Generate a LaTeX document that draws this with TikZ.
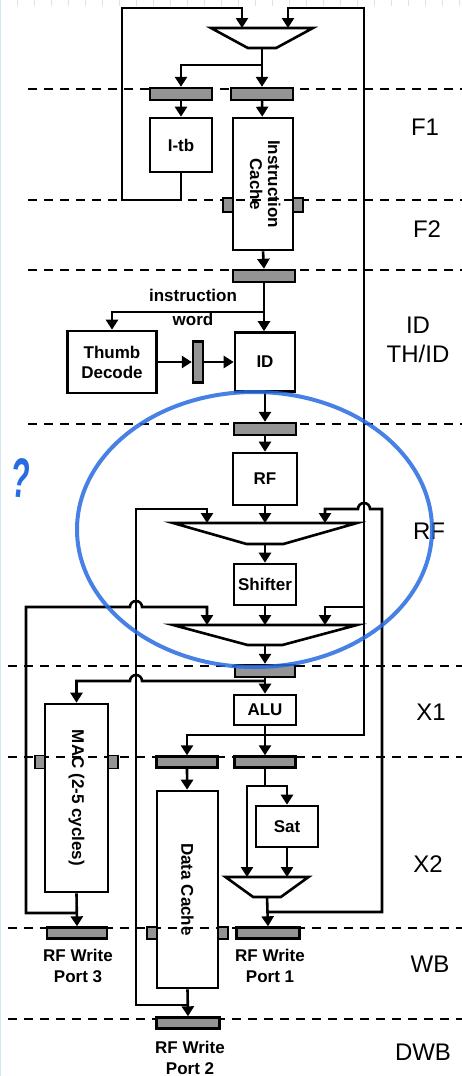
\documentclass[tikz,border=0pt]{standalone}
\usepackage{fontspec}
\setmainfont{Liberation Sans}
\usepackage{graphicx}
\usetikzlibrary{arrows.meta,positioning,shapes.geometric,patterns}
\definecolor{markblue}{RGB}{40,108,225}
\definecolor{paperline}{RGB}{214,229,242}
\tikzset{
    pipeunit/.style={rectangle,draw,line width=2.6pt,align=center,inner sep=0pt,font=\bfseries\fontsize{17}{20}\selectfont},
    pipereg/.style={rectangle,draw,line width=2.4pt,fill=black!42,inner sep=0pt,minimum width=62,minimum height=12},
    pipetab/.style={pipereg,line width=1.6pt,minimum width=10,minimum height=14},
    pipemux/.style={trapezium,draw,line width=2.6pt,trapezium stretches=true,shape border rotate=180,inner sep=1pt,minimum height=20},
    pipeline/.style={line width=2.6pt,-{Triangle[width=12pt,length=10pt]}},
    pipewire/.style={line width=2.6pt},
    stagesep/.style={line width=1.4pt,dash pattern=on 9pt off 7pt},
    stagename/.style={font=\fontsize{24}{29}\selectfont,align=center},
    portname/.style={font=\bfseries\fontsize{17}{21}\selectfont,align=center},
    markring/.style={draw=markblue,line width=4pt,opacity=0.85}
}

\begin{document}
\begin{tikzpicture}[x=1pt,y=-1pt]
    \useasboundingbox (0,0) rectangle (462,1076);
    % graph paper behind the sheet
    \draw[paperline,line width=0.8pt,step=17] (0,0) grid (462,1076);
    \fill[white] (8,6) rectangle (462,1076);
    % stage boundaries
    \foreach \y in {89,200,270,424} \draw[stagesep] (28,\y) -- (462,\y);
    \foreach \y in {666,757,928,1019} \draw[stagesep] (8,\y) -- (462,\y);
    \node[stagename] (stF1) at (425,127) {F1};
    \node[stagename] (stF2) at (427,229) {F2};
    \node[stagename] (stID) at (418,340) {ID\\TH/ID};
    \node[stagename] (stRF) at (429,531) {RF};
    \node[stagename] (stX1) at (431,712) {X1};
    \node[stagename] (stX2) at (428,864) {X2};
    \node[stagename] (stWB) at (430,964) {WB};
    \node[stagename] (stDWB) at (423,1052) {DWB};

    % fetch
    \node[pipemux,minimum width=102,trapezium angle=37.6] (m_f) at (262,38) {};
    \node[pipereg] (r_itb) at (181,94) {};
    \node[pipereg] (r_ic) at (262,94) {};
    \node[pipeunit,minimum width=62,minimum height=54] (itb) at (181,145) {I-tb};
    \node[pipeunit,minimum width=60,minimum height=132] (icache) at (263,184) {\rotatebox{-90}{\begin{tabular}{@{}c@{}}Instruction\\[-2pt]Cache\end{tabular}}};
    \node[pipetab] (t_icl) at (228,205) {};
    \node[pipetab] (t_icr) at (298,205) {};
    % decode
    \node[pipereg] (r_id) at (264,276) {};
    \node[pipeunit,minimum width=89,minimum height=62] (thumb) at (112,362) {Thumb\\Decode};
    \node[pipeunit,minimum width=60,minimum height=59] (id) at (265,362) {ID};
    \node[pipereg,minimum width=10,minimum height=41] (r_th) at (198,362) {};
    \node[font=\bfseries\fontsize{17}{24}\selectfont,align=center] (iword) at (193,307) {instruction\\word};
    % register read
    \node[pipereg] (r_rf) at (265,429) {};
    \node[pipeunit,minimum width=64,minimum height=52] (rf) at (265,479) {RF};
    \node[pipemux,minimum width=184,minimum height=21,trapezium angle=26.6] (m_rf1) at (265,533.5) {};
    \node[pipeunit,minimum width=62,minimum height=41] (shifter) at (265,584.5) {Shifter};
    \node[pipemux,minimum width=184,trapezium angle=25] (m_rf2) at (265,635) {};
    % execute
    \node[pipereg,minimum width=60] (r_x1) at (265,671) {};
    \node[pipeunit,minimum width=62,minimum height=30] (alu) at (265,710) {ALU};
    \node[pipereg,minimum width=61,minimum height=11] (r_x2) at (265,762) {};
    \node[pipereg,minimum width=61,minimum height=11] (r_dc) at (187,762) {};
    \node[pipeunit,minimum width=63,minimum height=188] (mac) at (76.5,798) {\rotatebox{-90}{MAC (2-5 cycles)}};
    \node[pipetab,minimum height=13] (t_macl) at (40,762) {};
    \node[pipetab,minimum height=13] (t_macr) at (113,762) {};
    \node[pipeunit,minimum width=61,minimum height=197] (dcache) at (187.5,889.5) {\rotatebox{-90}{Data Cache}};
    \node[pipetab,minimum height=12] (t_dcl) at (152,933) {};
    \node[pipetab,minimum height=12] (t_dcr) at (223,933) {};
    \node[pipeunit,minimum width=62,minimum height=41] (sat) at (287,826.5) {Sat};
    \node[pipemux,minimum width=83,trapezium angle=45] (m_x2) at (267,887) {};
    % write back
    \node[pipereg,minimum width=63,minimum height=11] (r_p1) at (268,933) {};
    \node[pipereg,minimum width=60,minimum height=11] (r_p3) at (77,933) {};
    \node[pipereg,minimum width=63,minimum height=11] (r_p2) at (188,1023) {};
    \node[portname] (n_p3) at (78,966) {RF Write\\Port 3};
    \node[portname] (n_p1) at (270,966) {RF Write\\Port 1};
    \node[portname] (n_p2) at (190,1058) {RF Write\\Port 2};

    % points on the wires
    \coordinate (f_in1) at (242,28);
    \coordinate (f_in2) at (288,28);
    \coordinate (f_out) at (262,48);
    \coordinate (j_f) at (262,65);
    \coordinate (lp_a) at (122,200);
    \coordinate (lp_b) at (122,8);
    \coordinate (bus_t) at (364,8);
    \coordinate (j_id) at (264,312);
    \coordinate (m1_l) at (207,523);
    \coordinate (m1_r) at (325,523);
    \coordinate (m1_o) at (265,544);
    \coordinate (m2_l) at (207,625);
    \coordinate (m2_r) at (325,625);
    \coordinate (m2_o) at (265,645);
    \coordinate (hop_a) at (364,509);
    \coordinate (hop_b) at (136,607);
    \coordinate (hop_c) at (136,681);
    \coordinate (j_fw) at (364,607);
    \coordinate (bus_r) at (382,509);
    \coordinate (bus_l) at (136,509);
    \coordinate (bus_ll) at (26,607);
    \coordinate (j_op) at (265,681);
    \coordinate (j_alu) at (265,735);
    \coordinate (j_sat) at (265,786);
    \coordinate (x_l) at (247,877);
    \coordinate (x_r) at (287,877);
    \coordinate (x_o) at (267,897);
    \coordinate (j_x2) at (267,912);
    \coordinate (j_mac) at (77,913);
    \coordinate (j_dc) at (187,1005);

    % fetch wiring
    \draw[pipeline] (f_out) -- (r_ic.north);
    \draw[pipeline] (j_f) -| (r_itb.north);
    \draw[pipeline] (r_itb) -- (itb);
    \draw[pipeline] (r_ic) -- (icache);
    \draw[pipeline] (itb.south) |- (lp_a) -- (lp_b) -| (f_in1);
    \draw[pipeline] (j_alu) -| (bus_t) -| (f_in2);
    % decode wiring
    \draw[pipeline] (icache.south) -- (r_id.north);
    \draw[pipeline] (r_id.south) -- (r_id.south |- id.north);
    \draw[pipeline] (j_id) -| (thumb.north);
    \draw[pipeline] (thumb.east) -- (r_th.west);
    \draw[pipeline] (r_th.east) -- (id.west);
    \draw[pipeline] (id.south) -- (r_rf.north);
    % register read and bypass
    \draw[pipeline] (r_rf) -- (rf);
    \draw[pipeline] (rf.south) -- (rf.south |- m1_l);
    \draw[pipeline] (m1_o) -- (shifter.north);
    \draw[pipeline] (shifter.south) -- (shifter.south |- m2_l);
    \draw[pipeline] (m2_o) -- (r_x1.north);
    \draw[pipeline] (j_fw) -| (m2_r);
    \draw[pipeline] (j_x2) -| (bus_r) -- ([xshift=6pt]hop_a) arc[start angle=0,end angle=180,radius=6pt] -| (m1_r);
    \draw[pipeline] (j_dc) -| (bus_l) -| (m1_l);
    \draw[pipeline] (j_mac) -| (bus_ll) -- ([xshift=-6pt]hop_b) arc[start angle=180,end angle=0,radius=6pt] -| (m2_l);
    % execute wiring
    \draw[pipeline] (r_x1) -- (alu);
    \draw[pipeline] (j_op) -- ([xshift=6pt]hop_c) arc[start angle=0,end angle=180,radius=6pt] -| (mac.north);
    \draw[pipeline] (alu.south) -- (alu.south |- r_x2.north);
    \draw[pipeline] (j_alu) -| (r_dc.north);
    \draw[pipeline] (r_dc) -- (dcache);
    \draw[pipewire] (r_x2.south) -- (j_sat);
    \draw[pipeline] (j_sat) -| (sat.north);
    \draw[pipeline] (j_sat) -| (x_l);
    \draw[pipeline] (sat.south) -- (x_r);
    % write back wiring
    \draw[pipeline] (x_o) -- (r_p1.north);
    \draw[pipeline] (mac.south) -- (r_p3.north);
    \draw[pipeline] (dcache.south) -- (r_p2.north);

    % hand-drawn marks
    \draw[markring] (254.5,529.5) ellipse[x radius=177.5,y radius=137.5];
    \node[text=markblue,font=\bfseries\fontsize{56}{56}\selectfont,rotate=-6] (qmark) at (21,478) {\scalebox{0.55}[1]{?}};
\end{tikzpicture}
\end{document}
